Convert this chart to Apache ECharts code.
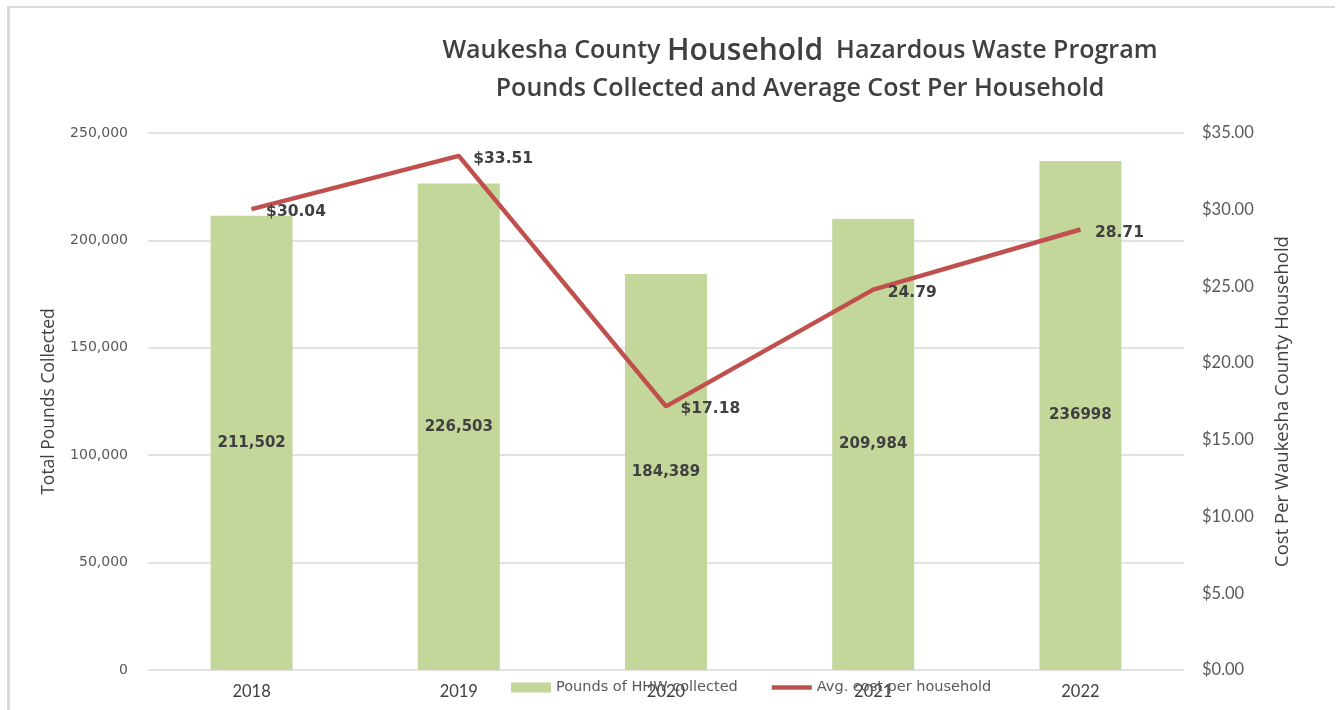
<!DOCTYPE html>
<html>
<head>
<meta charset="utf-8">
<title>Waukesha County HHW Program</title>
<script src="https://cdn.jsdelivr.net/npm/echarts@6/dist/echarts.min.js"></script>
<style>
  html, body { margin: 0; padding: 0; background: #fff; }
  #chart { width: 1337px; height: 710px; }
</style>
</head>
<body>
<div id="chart"></div>
<script>
// years on the x axis
const years = ['2018', '2019', '2020', '2021', '2022']
// pounds of HHW collected (bars, left axis)
const pounds = [211502, 226503, 184389, 209984, 236998]
// labels as printed on the bars
const poundLabels = ['211,502', '226,503', '184,389', '209,984', '236998']
// average cost per household (line, right axis)
const cost = [30.04, 33.51, 17.18, 24.79, 28.71]
// labels as printed next to the line
const costLabels = ['$30.04', '$33.51', '$17.18', '24.79', '28.71']

const leftTicks = { min: 0, max: 250000, interval: 50000 }
const rightTicks = { min: 0, max: 35, interval: 5 }

const chart = echarts.init(document.getElementById('chart'))

const option = {
  animation: false,
  backgroundColor: '#ffffff',
  title: {
    left: 795,
    top: 27,
    textAlign: 'center',
    text: '{a|Waukesha County }{b|Household}{a|  Hazardous Waste Program}\n{a|Pounds Collected and Average Cost Per Household}',
    textStyle: {
      rich: {
        a: { fontFamily: 'Open Sans', fontWeight: 600, fontSize: 25, color: '#404040', lineHeight: 38 },
        b: { fontFamily: 'Open Sans', fontWeight: 600, fontSize: 30, color: '#404040', lineHeight: 38 }
      }
    }
  },
  graphic: [
    // thin frame lines on the top and left edge
    { type: 'rect', shape: { x: 7, y: 6, width: 1328, height: 2 }, style: { fill: '#d9d9d9' } },
    { type: 'rect', shape: { x: 7, y: 6, width: 3, height: 704 }, style: { fill: '#d9d9d9' } }
  ],
  legend: {
    left: 506,
    top: 675,
    itemWidth: 40,
    itemHeight: 10,
    itemGap: 34,
    textStyle: { fontFamily: 'DejaVu Sans', fontSize: 14.5, color: '#595959' },
    data: [
      { name: 'Pounds of HHW collected', icon: 'rect' },
      { name: 'Avg. cost per household', icon: 'path://M0,0 L40,0 L40,4.5 L0,4.5 Z' }
    ]
  },
  grid: { left: 148, right: 153, top: 133, bottom: 40 },
  xAxis: {
    type: 'category',
    data: years,
    axisLine: { show: false },
    axisTick: { show: false },
    axisLabel: { fontFamily: 'Lato', fontSize: 16.5, color: '#404040', margin: 13 }
  },
  yAxis: [
    {
      type: 'value',
      min: leftTicks.min,
      max: leftTicks.max,
      interval: leftTicks.interval,
      name: 'Total Pounds Collected',
      nameLocation: 'middle',
      nameGap: 90,
      nameTextStyle: { fontFamily: 'Open Sans', fontSize: 17.5, color: '#404040' },
      axisLine: { show: false },
      axisTick: { show: false },
      axisLabel: {
        fontFamily: 'DejaVu Sans',
        fontSize: 14,
        color: '#595959',
        margin: 20,
        formatter: v => v.toLocaleString('en-US')
      },
      splitLine: { lineStyle: { color: '#d9d9d9', width: 1.5 } }
    },
    {
      type: 'value',
      min: rightTicks.min,
      max: rightTicks.max,
      interval: rightTicks.interval,
      name: 'Cost Per Waukesha County Household',
      nameLocation: 'middle',
      nameGap: 89,
      nameTextStyle: { fontFamily: 'Open Sans', fontSize: 18.5, color: '#404040' },
      axisLine: { show: false },
      axisTick: { show: false },
      splitLine: { show: false },
      axisLabel: {
        fontFamily: 'Lato',
        fontSize: 16.5,
        color: '#595959',
        margin: 18,
        formatter: v => '$' + v.toFixed(2)
      }
    }
  ],
  series: [
    {
      name: 'Pounds of HHW collected',
      type: 'bar',
      yAxisIndex: 0,
      barWidth: 82,
      data: pounds,
      itemStyle: { color: '#c4d79b' },
      label: {
        show: true,
        position: 'inside',
        fontFamily: 'DejaVu Sans',
        fontWeight: 'bold',
        fontSize: 15,
        color: '#404040',
        formatter: p => poundLabels[p.dataIndex]
      }
    },
    {
      name: 'Avg. cost per household',
      type: 'line',
      yAxisIndex: 1,
      data: cost,
      symbol: 'circle',
      symbolSize: 1,
      lineStyle: { color: '#c0504d', width: 4.5 },
      itemStyle: { color: '#c0504d' },
      label: {
        show: true,
        position: 'right',
        distance: 14,
        offset: [0, 3],
        fontFamily: 'DejaVu Sans',
        fontWeight: 'bold',
        fontSize: 15.5,
        color: '#404040',
        formatter: p => costLabels[p.dataIndex]
      }
    }
  ]
}

chart.setOption(option)
window.addEventListener('resize', () => chart.resize())
</script>
</body>
</html>
